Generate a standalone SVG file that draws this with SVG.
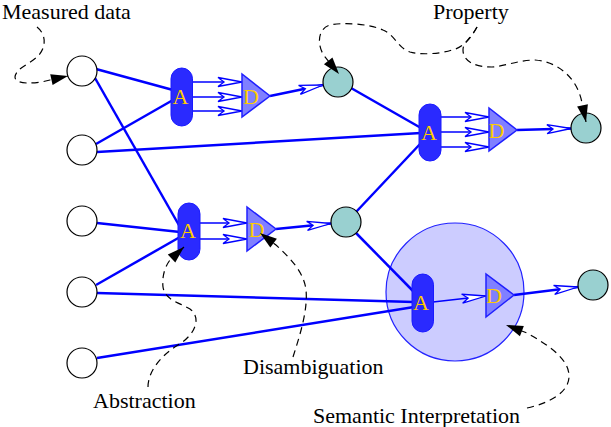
<svg xmlns="http://www.w3.org/2000/svg" width="611" height="427" viewBox="0 0 611 427">
<style>
.in{fill:#fff;stroke:#000;stroke-width:1.2}
.pr{fill:#99d0d0;stroke:#000;stroke-width:1.2}
.ab{fill:#2a2aff;stroke:#1a1aff;stroke-width:1}
.di{fill:#8080ff;stroke:#2020ff;stroke-width:1.5}
.lbl{font-family:"Liberation Serif","Times New Roman",serif;font-size:22px;fill:#ffcc00;text-anchor:middle}
.txt{font-family:"Liberation Serif","Times New Roman",serif;font-size:22px;fill:#000}
.c{stroke:#0000ff;stroke-width:2.5;fill:none}
.t{stroke:#0000ff;stroke-width:1.5;fill:none;marker-end:url(#oa)}
.o{stroke:#0000ff;stroke-width:2.5;fill:none;marker-end:url(#oa)}
.d{stroke:#000;stroke-width:1.2;fill:none;stroke-dasharray:7,5;marker-end:url(#ba)}
</style>
<defs>
<marker id="oa" markerWidth="26" markerHeight="12" refX="24" refY="6" orient="auto" markerUnits="userSpaceOnUse" overflow="visible">
<path d="M24,6 L0,1.5 L6,6 L0,10.5 Z" fill="#fff" stroke="#0000ff" stroke-width="1.3"/>
</marker>
<marker id="ba" markerWidth="18" markerHeight="12" refX="17" refY="5.5" orient="auto" markerUnits="userSpaceOnUse" overflow="visible">
<path d="M0,0 L17,5.5 L0,11 Z" fill="#000"/>
</marker>
</defs>

<g id="semantic-region">
<circle cx="455" cy="292" r="69" fill="#ccccff" stroke="#2222ff" stroke-width="1.2"/>
</g>

<g id="connectors">
<line class="c" x1="96" y1="69" x2="173" y2="90"/>
<line class="c" x1="96" y1="144" x2="173" y2="100"/>
<line class="c" x1="95" y1="78" x2="180" y2="227"/>
<line class="c" x1="97" y1="152" x2="421" y2="133"/>
<line class="c" x1="97" y1="223" x2="180" y2="232"/>
<line class="c" x1="96" y1="285" x2="180" y2="237"/>
<line class="c" x1="97" y1="293" x2="414" y2="302"/>
<line class="c" x1="97" y1="358" x2="414" y2="307"/>
<line class="c" x1="351" y1="88" x2="421" y2="128"/>
<line class="c" x1="356" y1="212" x2="421" y2="143"/>
<line class="c" x1="356" y1="233" x2="414" y2="292"/>
<line class="t" x1="192" y1="82" x2="242" y2="82"/>
<line class="t" x1="192" y1="97" x2="242" y2="97"/>
<line class="t" x1="192" y1="111" x2="242" y2="111"/>
<line class="t" x1="441" y1="117" x2="489" y2="117"/>
<line class="t" x1="441" y1="132" x2="489" y2="132"/>
<line class="t" x1="441" y1="147" x2="489" y2="147"/>
<line class="t" x1="200" y1="223" x2="247" y2="223"/>
<line class="t" x1="200" y1="239" x2="247" y2="239"/>
<line class="t" x1="433" y1="302" x2="486" y2="296"/>
<line class="o" x1="270" y1="96" x2="323" y2="85"/>
<line class="o" x1="517" y1="130" x2="571" y2="128.5"/>
<line class="o" x1="276" y1="229" x2="331" y2="223.5"/>
<line class="o" x1="514" y1="295" x2="578" y2="287"/>
</g>

<g id="in1"><circle class="in" cx="82" cy="71" r="15"/></g>
<g id="in2"><circle class="in" cx="82" cy="150" r="15"/></g>
<g id="in3"><circle class="in" cx="82" cy="221" r="15"/></g>
<g id="in4"><circle class="in" cx="82" cy="292" r="15"/></g>
<g id="in5"><circle class="in" cx="82" cy="363" r="15"/></g>

<g id="a1"><rect class="ab" x="171" y="68" width="21.5" height="58" rx="10.75"/><text class="lbl" x="180.5" y="104">A</text></g>
<g id="a2"><rect class="ab" x="419" y="104" width="22" height="57" rx="11"/><text class="lbl" x="429" y="140">A</text></g>
<g id="a3"><rect class="ab" x="178" y="203" width="22" height="57" rx="11"/><text class="lbl" x="188" y="238">A</text></g>
<g id="a4"><rect class="ab" x="412" y="274" width="21.5" height="58" rx="10.75"/><text class="lbl" x="421" y="310">A</text></g>

<g id="d1"><polygon class="di" points="242,74 242,117 270,96"/><text class="lbl" x="251" y="104">D</text></g>
<g id="d2"><polygon class="di" points="489,108 489,151 517,130"/><text class="lbl" x="496.5" y="138">D</text></g>
<g id="d3"><polygon class="di" points="247,207 247,251 276,229"/><text class="lbl" x="256.5" y="237">D</text></g>
<g id="d4"><polygon class="di" points="486,274 486,317 514,295"/><text class="lbl" x="494" y="303">D</text></g>

<g id="p1"><circle class="pr" cx="338" cy="82" r="15"/></g>
<g id="p2"><circle class="pr" cx="346" cy="222" r="15"/></g>
<g id="p3"><circle class="pr" cx="586" cy="128" r="15"/></g>
<g id="p4"><circle class="pr" cx="593" cy="285" r="15"/></g>

<g id="annotations">
<path class="d" d="M37,27 C47,35 46,48 38,56 C30,64 16,68 15,77 C15,85 35,84 50,80 L68,76"/>
<path class="d" d="M477,27 C470,40 462,48 452,50 C440,54 420,55 410,52 C398,48 395,35 383,30 C370,24 345,22 330,25 C318,28 316,45 325,57 L339,74"/>
<path class="d" d="M477,27 C470,40 463,42 463,50 C463,62 476,67 492,67 C505,66 520,60 535,60 C560,62 578,80 582,103 L586,122"/>
<path class="d" d="M148,387 C148,372 160,356 178,345 C195,335 202,318 190,309 C178,302 165,300 163,287 C162,278 164,268 170,260 L184,247"/>
<path class="d" d="M293,357 C300,335 308,310 306,290 C304,272 290,258 276,245 L260,233"/>
<path class="d" d="M527,408 C550,403 570,392 569,375 C568,358 548,345 527,333 L506,325"/>
<text class="txt" x="2" y="19">Measured data</text>
<text class="txt" x="433" y="19">Property</text>
<text class="txt" x="243" y="374">Disambiguation</text>
<text class="txt" x="93" y="408">Abstraction</text>
<text class="txt" x="313" y="423">Semantic Interpretation</text>
</g>
</svg>
